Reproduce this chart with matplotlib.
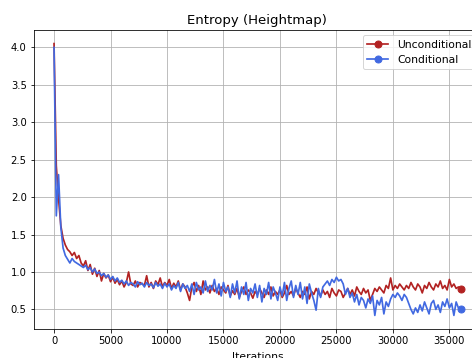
import matplotlib
matplotlib.use('Agg')
import matplotlib.pyplot as plt

# iterations, one point every 200 steps
iterations = list(range(0, 36001, 200))

unconditional = [
    4.05, 2.42, 1.98, 1.62, 1.45, 1.36, 1.30, 1.27, 1.22, 1.26,
    1.18, 1.22, 1.12, 1.08, 1.15, 1.02, 1.10, 0.97, 1.05, 0.94,
    1.02, 0.88, 0.98, 0.92, 0.96, 0.87, 0.93, 0.85, 0.90, 0.83,
    0.88, 0.80, 0.86, 1.00, 0.84, 0.82, 0.88, 0.80, 0.86, 0.84,
    0.82, 0.95, 0.80, 0.86, 0.78, 0.88, 0.83, 0.92, 0.80, 0.86,
    0.82, 0.90, 0.78, 0.85, 0.80, 0.88, 0.76, 0.84, 0.80, 0.72,
    0.62, 0.80, 0.86, 0.74, 0.82, 0.70, 0.88, 0.76, 0.80, 0.72,
    0.82, 0.74, 0.78, 0.70, 0.80, 0.76, 0.72, 0.82, 0.68, 0.75,
    0.70, 0.78, 0.66, 0.74, 0.80, 0.70, 0.76, 0.72, 0.65, 0.74,
    0.70, 0.78, 0.72, 0.66, 0.76, 0.70, 0.80, 0.68, 0.74, 0.70,
    0.76, 0.66, 0.72, 0.82, 0.70, 0.74, 0.68, 0.78, 0.72, 0.66,
    0.74, 0.70, 0.80, 0.64, 0.74, 0.70, 0.78, 0.72, 0.68, 0.76,
    0.70, 0.74, 0.66, 0.78, 0.72, 0.68, 0.76, 0.74, 0.66, 0.72,
    0.78, 0.70, 0.76, 0.68, 0.80, 0.74, 0.70, 0.78, 0.72, 0.76,
    0.62, 0.70, 0.78, 0.74, 0.80, 0.76, 0.72, 0.82, 0.78, 0.92,
    0.76, 0.82, 0.78, 0.84, 0.80, 0.76, 0.82, 0.78, 0.86, 0.80,
    0.76, 0.84, 0.80, 0.72, 0.82, 0.78, 0.86, 0.80, 0.76, 0.84,
    0.80, 0.88, 0.78, 0.82, 0.76, 0.90, 0.80, 0.84, 0.78, 0.80, 0.77,
]

conditional = [
    4.00, 1.75, 2.30, 1.60, 1.32, 1.22, 1.17, 1.12, 1.18, 1.14,
    1.12, 1.10, 1.08, 1.06, 1.09, 1.03, 1.06, 1.00, 1.04, 0.98,
    1.00, 0.95, 0.98, 0.93, 0.96, 0.90, 0.94, 0.88, 0.92, 0.86,
    0.89, 0.84, 0.88, 0.82, 0.86, 0.84, 0.80, 0.87, 0.83, 0.85,
    0.80, 0.86, 0.82, 0.84, 0.79, 0.86, 0.81, 0.84, 0.78, 0.85,
    0.80, 0.84, 0.76, 0.82, 0.78, 0.86, 0.74, 0.84, 0.78, 0.82,
    0.74, 0.84, 0.70, 0.86, 0.76, 0.80, 0.72, 0.88, 0.74, 0.82,
    0.76, 0.90, 0.72, 0.84, 0.68, 0.86, 0.74, 0.80, 0.66, 0.84,
    0.72, 0.88, 0.64, 0.80, 0.70, 0.86, 0.62, 0.78, 0.72, 0.84,
    0.66, 0.82, 0.60, 0.78, 0.70, 0.86, 0.64, 0.80, 0.72, 0.62,
    0.80, 0.68, 0.86, 0.62, 0.78, 0.88, 0.66, 0.82, 0.70, 0.86,
    0.64, 0.80, 0.58, 0.84, 0.72, 0.62, 0.49, 0.78, 0.66, 0.80,
    0.84, 0.88, 0.82, 0.90, 0.86, 0.93, 0.88, 0.90, 0.84, 0.70,
    0.78, 0.66, 0.72, 0.60, 0.70, 0.56, 0.66, 0.62, 0.52, 0.64,
    0.58, 0.68, 0.42, 0.62, 0.56, 0.66, 0.44, 0.60, 0.54, 0.64,
    0.70, 0.66, 0.72, 0.68, 0.62, 0.70, 0.66, 0.58, 0.50, 0.44,
    0.52, 0.46, 0.56, 0.48, 0.60, 0.52, 0.44, 0.58, 0.62, 0.50,
    0.56, 0.46, 0.60, 0.54, 0.64, 0.52, 0.58, 0.42, 0.60, 0.52, 0.50,
]

fig = plt.figure(figsize=(472 / 72, 358 / 72), dpi=72)
# axes run past the right and bottom edges like the cropped original
ax = fig.add_axes([33.7 / 472, 29 / 358, (481 - 33.7) / 472, 299 / 358])

ax.plot(iterations, unconditional, color='firebrick', lw=1.7, marker='o', ms=7,
        markevery=[-1], label='Unconditional')
ax.plot(iterations, conditional, color='royalblue', lw=1.7, marker='o', ms=7,
        markevery=[-1], label='Conditional')
ax.set_title('Entropy (Heightmap)', fontsize=13.2)
ax.set_xlabel('Iterations', fontsize=10.7, labelpad=6)
ax.grid(True)
ax.legend(loc='upper right', fontsize=10.7)

fig.savefig('out.png', dpi=72)
